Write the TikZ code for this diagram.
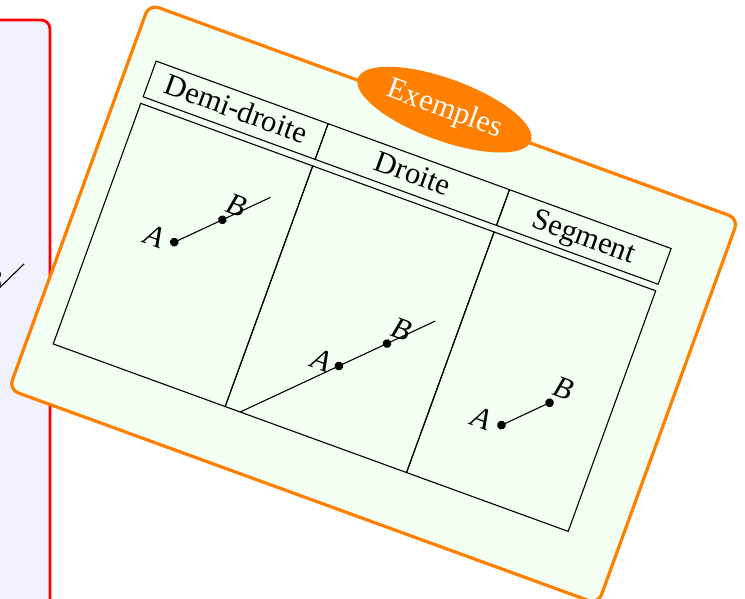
\documentclass[tikz,border=0pt]{standalone}
\usepackage{fontspec}
\setmainfont{Liberation Serif}
\usetikzlibrary{positioning,shapes.geometric}

\begin{document}
\begin{tikzpicture}[x=1pt, y=1pt,
	bigtext/.style={font=\fontsize{30.5}{36}\selectfont},
	thinline/.style={line width=1.1pt},
	headcell/.style={draw, thinline, bigtext, minimum height=38pt, inner sep=0pt, outer sep=0pt, text height=22pt, text depth=5pt, transform shape},
	bodycell/.style={draw, thinline, minimum height=256pt, inner sep=0pt, outer sep=0pt, transform shape},
	ptlabel/.style={bigtext, inner sep=0pt, transform shape},
	mainbox/.style={draw=red, line width=2.8pt, fill=blue!5, rounded corners=9pt},
	examplebox/.style={draw=orange, line width=3.2pt, fill=green!5, rounded corners=10pt},
	titlebox/.style={ellipse, fill=orange, text=white, bigtext, minimum width=184pt, minimum height=62pt, inner sep=0pt, transform shape}]
	\useasboundingbox (0,0) rectangle (745,599);
	\clip (0,0) rectangle (745,599);
	% left box, only its right edge is seen
	\draw[mainbox] (-40,-40) rectangle (50,579);
	\draw[thinline] (-13.5,298.5) -- (24,335);
	\node[ptlabel] (lB0) at (-7.5,318) {\textit{B}};
	% rotated box with the examples
	\begin{scope}[shift={(376,294)}, rotate=-20]
		\draw[examplebox] (-316,-205) rectangle (311,205);
		\node[titlebox] (title) at (-2.5,207) {Exemples};
		% header row
		\node[headcell, minimum width=183pt] (hDemi) at (-198.5,135) {Demi-droite};
		\node[headcell, minimum width=193pt, right=0pt of hDemi] (hDroite) {Droite};
		\node[headcell, minimum width=172pt, right=0pt of hDroite] (hSegment) {Segment};
		% body cells
		\node[bodycell, minimum width=183pt, below=7pt of hDemi] (bDemi) {};
		\node[bodycell, minimum width=193pt, below=7pt of hDroite] (bDroite) {};
		\node[bodycell, minimum width=172pt, below=7pt of hSegment] (bSegment) {};
		% demi-droite [AB)
		\coordinate (A1) at (-211,-10);
		\coordinate (B1) at (-173.5,27.5);
		\coordinate (E1) at (-136,65);
		\draw[thinline] (A1) -- (E1);
		\fill (A1) circle (4.4pt);
		\fill (B1) circle (4.4pt);
		\node[ptlabel] (lA1) at (-231,-11) {\textit{A}};
		\node[ptlabel] (lB1) at (-165,45.5) {\textit{B}};
		% droite (AB)
		\coordinate (A2) at (-14,-70);
		\coordinate (B2) at (23.5,-32.5);
		\coordinate (S2) at (-91,-147);
		\coordinate (E2) at (61,5);
		\draw[thinline] (S2) -- (E2);
		\fill (A2) circle (4.4pt);
		\fill (B2) circle (4.4pt);
		\node[ptlabel] (lA2) at (-32.5,-70.5) {\textit{A}};
		\node[ptlabel] (lB2) at (32,-14) {\textit{B}};
		% segment [AB]
		\coordinate (A3) at (159,-70);
		\coordinate (B3) at (196.5,-32.5);
		\draw[thinline] (A3) -- (B3);
		\fill (A3) circle (4.4pt);
		\fill (B3) circle (4.4pt);
		\node[ptlabel] (lA3) at (138.5,-70.5) {\textit{A}};
		\node[ptlabel] (lB3) at (205,-14) {\textit{B}};
	\end{scope}
\end{tikzpicture}
\end{document}
